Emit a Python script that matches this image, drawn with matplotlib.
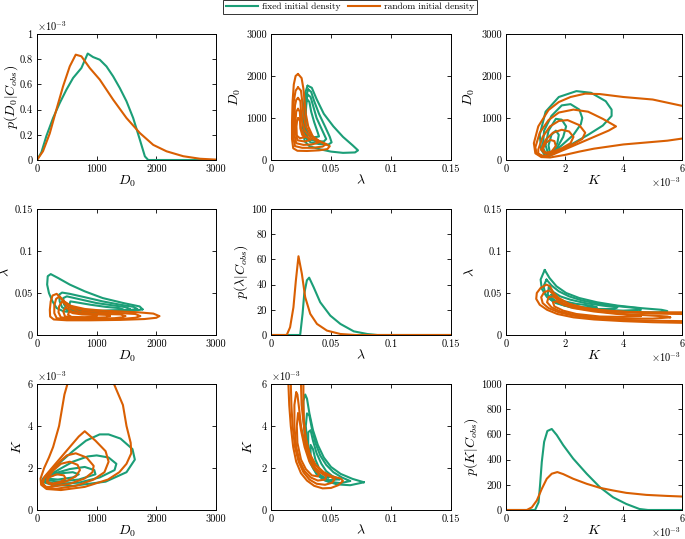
import matplotlib.pyplot as plt
from matplotlib.lines import Line2D
from matplotlib.ticker import FormatStrFormatter

plt.rcParams['font.family'] = 'serif'
plt.rcParams['font.serif'] = ['cmr10']
plt.rcParams['mathtext.fontset'] = 'cm'
plt.rcParams['axes.unicode_minus'] = False

GREEN = '#1b9e77'
ORANGE = '#d95f02'

# marginal of D0 (p in units of 1e-3)
d0_fixed = [0, 73, 157, 269, 381, 493, 605, 744, 850, 940, 1052, 1164, 1276, 1388, 1500, 1612, 1724, 1808, 1864, 3000]
pd0_fixed = [0, 0.06, 0.19, 0.333, 0.452, 0.558, 0.651, 0.73, 0.845, 0.817, 0.796, 0.743, 0.664, 0.571, 0.466, 0.333, 0.161, 0.029, 0, 0]
d0_random = [0, 101, 213, 325, 437, 549, 649, 744, 884, 1052, 1276, 1500, 1724, 1948, 2171, 2451, 2731, 3000]
pd0_random = [0, 0.07, 0.21, 0.40, 0.585, 0.743, 0.836, 0.823, 0.73, 0.638, 0.479, 0.333, 0.214, 0.12, 0.069, 0.03, 0.01, 0.003]

# marginal of lambda
lam_fixed = [0, 0.0243, 0.0263, 0.0277, 0.0299, 0.0318, 0.0355, 0.041, 0.0494, 0.0578, 0.069, 0.0802, 0.0886, 0.15]
plam_fixed = [0, 0, 16.8, 32.7, 43.4, 45.5, 38, 26, 15.4, 8.8, 2.9, 0.8, 0, 0]
lam_random = [0, 0.0131, 0.0159, 0.0187, 0.0207, 0.0229, 0.0257, 0.0285, 0.0327, 0.0383, 0.0466, 0.0578, 0.07, 0.15]
plam_random = [0, 0, 6.1, 22, 43, 62.5, 48.7, 30, 16.8, 8.8, 3.5, 0.8, 0, 0]

# marginal of K (K in units of 1e-3)
k_fixed = [0, 0.99, 1.11, 1.16, 1.22, 1.30, 1.41, 1.56, 1.73, 1.95, 2.29, 2.75, 3.20, 3.65, 4.10, 4.55, 4.84, 6.0]
pk_fixed = [0, 0, 61, 195, 381, 541, 627, 643, 595, 515, 408, 288, 181, 101, 48, 8, 0, 0]
k_random = [0, 0.71, 0.88, 1.05, 1.22, 1.39, 1.56, 1.75, 1.95, 2.29, 2.75, 3.20, 3.65, 4.10, 4.78, 5.46, 6.0]
pk_random = [0, 0, 21, 75, 168, 248, 288, 301, 285, 248, 208, 176, 155, 136, 120, 112, 107]

# joint contours, points as (lambda, D0)
lam_D0_fixed = [
    [(0.0305, 1770), (0.034, 1720), (0.038, 1450), (0.044, 1100), (0.052, 800), (0.060, 550), (0.068, 350),
     (0.0725, 230), (0.070, 180), (0.060, 170), (0.050, 200), (0.040, 260), (0.032, 330), (0.028, 450),
     (0.0265, 800), (0.027, 1200), (0.0285, 1600), (0.0305, 1770)],
    [(0.031, 1680), (0.0335, 1620), (0.036, 1400), (0.040, 1100), (0.045, 800), (0.049, 550), (0.0505, 420),
     (0.048, 370), (0.040, 380), (0.033, 420), (0.029, 520), (0.0275, 850), (0.028, 1250), (0.0295, 1550),
     (0.031, 1680)],
    [(0.0305, 1560), (0.033, 1500), (0.035, 1300), (0.038, 1000), (0.042, 750), (0.046, 500), (0.044, 440),
     (0.037, 450), (0.031, 500), (0.0285, 700), (0.0285, 1100), (0.0295, 1420), (0.0305, 1560)],
    [(0.030, 1450), (0.032, 1380), (0.0335, 1150), (0.036, 900), (0.039, 650), (0.040, 560), (0.036, 540),
     (0.031, 600), (0.029, 800), (0.029, 1150), (0.0295, 1350), (0.030, 1450)],
]
lam_D0_random = [
    [(0.0225, 2050), (0.0255, 1950), (0.027, 1700), (0.028, 1400), (0.029, 1100), (0.031, 800), (0.035, 550),
     (0.042, 420), (0.049, 330), (0.047, 260), (0.040, 230), (0.030, 215), (0.022, 220), (0.0185, 280),
     (0.0175, 500), (0.0175, 900), (0.018, 1400), (0.019, 1800), (0.0205, 2000), (0.0225, 2050)],
    [(0.0225, 1730), (0.025, 1650), (0.026, 1400), (0.027, 1100), (0.029, 800), (0.033, 600), (0.040, 450),
     (0.046, 380), (0.043, 320), (0.035, 290), (0.026, 290), (0.020, 330), (0.0185, 550), (0.0185, 1000),
     (0.019, 1400), (0.0205, 1650), (0.0225, 1730)],
    [(0.0225, 1480), (0.0245, 1400), (0.025, 1150), (0.026, 900), (0.028, 700), (0.033, 530), (0.040, 420),
     (0.034, 370), (0.027, 360), (0.021, 400), (0.0195, 600), (0.0195, 1000), (0.020, 1300), (0.021, 1430),
     (0.0225, 1480)],
    [(0.0225, 1220), (0.024, 1150), (0.0245, 950), (0.025, 750), (0.028, 580), (0.033, 480), (0.028, 440),
     (0.022, 470), (0.0205, 650), (0.0205, 950), (0.021, 1150), (0.0225, 1220)],
    [(0.0228, 1000), (0.0242, 920), (0.0245, 750), (0.026, 600), (0.028, 540), (0.024, 520), (0.0215, 580),
     (0.0212, 800), (0.0218, 950), (0.0228, 1000)],
]

# joint contours, points as (K, D0)
K_D0_fixed = [
    [(1.35, 80), (1.2, 250), (1.15, 600), (1.35, 1150), (1.8, 1500), (2.4, 1640), (2.9, 1600), (3.4, 1400),
     (3.6, 1200), (3.6, 1050), (3.3, 820), (2.8, 600), (2.3, 400), (1.8, 220), (1.5, 100), (1.35, 80)],
    [(1.4, 100), (1.25, 300), (1.3, 700), (1.55, 1050), (1.9, 1300), (2.2, 1330), (2.5, 1200), (2.6, 1000),
     (2.55, 850), (2.3, 600), (1.9, 350), (1.6, 170), (1.4, 100)],
    [(1.45, 120), (1.35, 350), (1.45, 700), (1.7, 980), (1.9, 960), (2.05, 800), (1.95, 550), (1.75, 300),
     (1.55, 150), (1.45, 120)],
    [(1.5, 150), (1.45, 350), (1.55, 600), (1.7, 700), (1.8, 600), (1.75, 400), (1.6, 200), (1.5, 150)],
]
K_D0_random = [
    [(6.0, 1290), (5.0, 1440), (4.0, 1500), (3.2, 1570), (2.7, 1580), (2.2, 1500), (1.8, 1380), (1.45, 1190),
     (1.1, 800), (0.95, 400), (1.0, 160), (1.2, 70), (1.5, 60), (2.0, 120), (2.5, 200), (3.0, 270),
     (3.5, 320), (4.0, 370), (4.5, 400), (5.0, 430), (5.5, 460), (6.0, 510)],
    [(1.05, 150), (1.0, 300), (1.15, 650), (1.45, 950), (1.8, 1130), (2.3, 1200), (2.8, 1150), (3.3, 980),
     (3.75, 800), (3.5, 700), (3.0, 550), (2.5, 400), (2.0, 250), (1.6, 130), (1.3, 80), (1.05, 150)],
    [(1.1, 150), (1.1, 250), (1.25, 550), (1.5, 800), (1.8, 930), (2.1, 950), (2.5, 830), (2.7, 650),
     (2.6, 500), (2.3, 380), (1.9, 250), (1.5, 120), (1.25, 100), (1.1, 150)],
    [(1.2, 250), (1.35, 480), (1.6, 650), (1.9, 720), (2.15, 680), (2.3, 550), (2.2, 400), (1.9, 280),
     (1.5, 170), (1.3, 170), (1.2, 250)],
    [(1.25, 250), (1.35, 400), (1.5, 480), (1.65, 450), (1.7, 330), (1.55, 200), (1.35, 170), (1.25, 250)],
]

# joint contours, points as (lambda, K)
lam_K_fixed = [
    [(0.0775, 1.32), (0.068, 1.48), (0.058, 1.72), (0.050, 2.05), (0.044, 2.5), (0.039, 3.1), (0.035, 3.8),
     (0.032, 4.6), (0.030, 5.3), (0.0285, 5.5), (0.027, 5.2), (0.027, 4.4), (0.028, 3.6), (0.030, 2.8),
     (0.033, 2.2), (0.038, 1.7), (0.045, 1.4), (0.055, 1.22), (0.066, 1.18), (0.0775, 1.32)],
    [(0.066, 1.38), (0.059, 1.55), (0.052, 1.8), (0.046, 2.15), (0.041, 2.6), (0.037, 3.2), (0.034, 3.9),
     (0.032, 4.5), (0.030, 4.6), (0.029, 4.0), (0.030, 3.3), (0.032, 2.6), (0.035, 2.0), (0.040, 1.6),
     (0.048, 1.35), (0.058, 1.28), (0.066, 1.38)],
    [(0.057, 1.46), (0.051, 1.62), (0.046, 1.85), (0.042, 2.2), (0.038, 2.7), (0.035, 3.3), (0.033, 3.8),
     (0.031, 3.7), (0.031, 3.1), (0.033, 2.5), (0.036, 2.0), (0.041, 1.65), (0.048, 1.42), (0.057, 1.46)],
    [(0.048, 1.55), (0.044, 1.72), (0.040, 2.0), (0.037, 2.4), (0.035, 2.9), (0.033, 3.1), (0.033, 2.6),
     (0.035, 2.1), (0.039, 1.75), (0.044, 1.55), (0.048, 1.55)],
]
lam_K_random = [
    [(0.0145, 6.0), (0.0152, 5.0), (0.0165, 4.0), (0.0185, 3.0), (0.021, 2.3), (0.025, 1.75), (0.030, 1.4),
     (0.036, 1.15), (0.043, 1.03), (0.050, 1.05), (0.056, 1.18), (0.060, 1.38), (0.058, 1.5), (0.051, 1.6),
     (0.044, 1.8), (0.037, 2.15), (0.032, 2.7), (0.029, 3.4), (0.0275, 4.2), (0.027, 5.0), (0.027, 6.0)],
    [(0.0165, 6.0), (0.017, 5.0), (0.018, 4.0), (0.020, 3.0), (0.023, 2.3), (0.027, 1.8), (0.032, 1.45),
     (0.038, 1.25), (0.045, 1.2), (0.051, 1.3), (0.053, 1.47), (0.049, 1.6), (0.043, 1.8), (0.037, 2.15),
     (0.032, 2.7), (0.029, 3.4), (0.027, 4.2), (0.0255, 5.0), (0.025, 6.0)],
    [(0.021, 5.6), (0.0195, 5.0), (0.0195, 4.0), (0.021, 3.0), (0.024, 2.3), (0.028, 1.85), (0.033, 1.55),
     (0.039, 1.4), (0.045, 1.45), (0.046, 1.6), (0.042, 1.75), (0.037, 2.0), (0.032, 2.5), (0.028, 3.2),
     (0.025, 4.0), (0.0235, 4.8), (0.022, 5.5), (0.021, 5.6)],
    [(0.0225, 4.6), (0.0215, 4.0), (0.022, 3.2), (0.025, 2.4), (0.029, 1.95), (0.034, 1.65), (0.039, 1.6),
     (0.040, 1.72), (0.036, 1.95), (0.032, 2.3), (0.028, 3.0), (0.025, 3.8), (0.0235, 4.4), (0.0225, 4.6)],
]

names = [r'$D_0$', r'$\lambda$', r'$K$']
lims = [(0, 3000), (0, 0.15), (0, 6)]
ticks = [[0, 1000, 2000, 3000], [0, 0.05, 0.1, 0.15], [0, 2, 4, 6]]
diag_labels = [r'$p(D_0|C_{obs})$', r'$p(\lambda|C_{obs})$', r'$p(K|C_{obs})$']
diag_lims = [(0, 1), (0, 100), (0, 1000)]
diag_ticks = [[0, 0.2, 0.4, 0.6, 0.8, 1], [0, 20, 40, 60, 80, 100], [0, 200, 400, 600, 800, 1000]]

# right edge of each y label, in pixels from the left of the figure
ylabel_right = [[20, 243, 477], [12, 250, 477], [24, 255, 480]]


def draw_loops(ax, loops, color, swap):
    for loop in loops:
        xs = [p[0] for p in loop]
        ys = [p[1] for p in loop]
        if swap:
            xs, ys = ys, xs
        ax.plot(xs, ys, color=color, lw=1.5, solid_joinstyle='round', solid_capstyle='round')


def offset_text(ax, where):
    if where == 'y':
        ax.text(0.0, 1.01, r'$\times10^{-3}$', transform=ax.transAxes, ha='left', va='bottom', fontsize=7.5)
    else:
        ax.text(0.995, -0.125, r'$\times10^{-3}$', transform=ax.transAxes, ha='right', va='top', fontsize=7.5)


def main():
    fig = plt.figure(figsize=(6.85, 5.39), dpi=100)
    W, H = 685.0, 539.0
    lefts = [37, 271, 506]
    widths = [179, 180, 176]
    tops = [34, 209, 384]
    axes = {}
    for i in range(3):
        for j in range(3):
            ax = fig.add_axes([lefts[j] / W, 1 - (tops[i] + 126) / H, widths[j] / W, 126 / H])
            axes[(i, j)] = ax
            ax.tick_params(direction='in', top=True, right=True, length=3, width=0.6, labelsize=7.5, pad=3)
            for s in ax.spines.values():
                s.set_linewidth(0.7)
            ax.set_xlim(lims[j])
            ax.set_xticks(ticks[j])
            ax.set_xlabel(names[j], fontsize=10, labelpad=0)
            ax.xaxis.set_major_formatter(FormatStrFormatter('%g'))
            if i == j:
                ax.set_ylim(diag_lims[i])
                ax.set_yticks(diag_ticks[i])
                ax.set_ylabel(diag_labels[i], fontsize=10)
            else:
                ax.set_ylim(lims[i])
                ax.set_yticks(ticks[i])
                ax.set_ylabel(names[i], fontsize=10)
            ax.yaxis.set_major_formatter(FormatStrFormatter('%g'))
            ax.yaxis.set_label_coords((ylabel_right[i][j] - lefts[j]) / widths[j], 0.5)

    # diagonal marginals
    axes[(0, 0)].plot(d0_fixed, pd0_fixed, color=GREEN, lw=1.5)
    axes[(0, 0)].plot(d0_random, pd0_random, color=ORANGE, lw=1.5)
    axes[(1, 1)].plot(lam_fixed, plam_fixed, color=GREEN, lw=1.5)
    axes[(1, 1)].plot(lam_random, plam_random, color=ORANGE, lw=1.5)
    axes[(2, 2)].plot(k_fixed, pk_fixed, color=GREEN, lw=1.5)
    axes[(2, 2)].plot(k_random, pk_random, color=ORANGE, lw=1.5)

    # joint contours
    draw_loops(axes[(0, 1)], lam_D0_fixed, GREEN, False)
    draw_loops(axes[(0, 1)], lam_D0_random, ORANGE, False)
    draw_loops(axes[(1, 0)], lam_D0_fixed, GREEN, True)
    draw_loops(axes[(1, 0)], lam_D0_random, ORANGE, True)
    draw_loops(axes[(0, 2)], K_D0_fixed, GREEN, False)
    draw_loops(axes[(0, 2)], K_D0_random, ORANGE, False)
    draw_loops(axes[(2, 0)], K_D0_fixed, GREEN, True)
    draw_loops(axes[(2, 0)], K_D0_random, ORANGE, True)
    draw_loops(axes[(2, 1)], lam_K_fixed, GREEN, False)
    draw_loops(axes[(2, 1)], lam_K_random, ORANGE, False)
    draw_loops(axes[(1, 2)], lam_K_fixed, GREEN, True)
    draw_loops(axes[(1, 2)], lam_K_random, ORANGE, True)

    offset_text(axes[(0, 0)], 'y')
    offset_text(axes[(2, 0)], 'y')
    offset_text(axes[(2, 1)], 'y')
    offset_text(axes[(0, 2)], 'x')
    offset_text(axes[(1, 2)], 'x')
    offset_text(axes[(2, 2)], 'x')

    handles = [Line2D([], [], color=GREEN, lw=1.5), Line2D([], [], color=ORANGE, lw=1.5)]
    leg = fig.legend(handles, ['fixed initial density', 'random initial density'], loc='upper center',
                     bbox_to_anchor=(350 / W, 1.0), ncol=2, fontsize=6.8, frameon=True, fancybox=False,
                     edgecolor='black', borderpad=0.3, handlelength=3.4, columnspacing=0.8,
                     handletextpad=0.4, borderaxespad=0)
    leg.get_frame().set_linewidth(0.7)

    fig.savefig('out.png', dpi=100)


if __name__ == "__main__":
    main()
